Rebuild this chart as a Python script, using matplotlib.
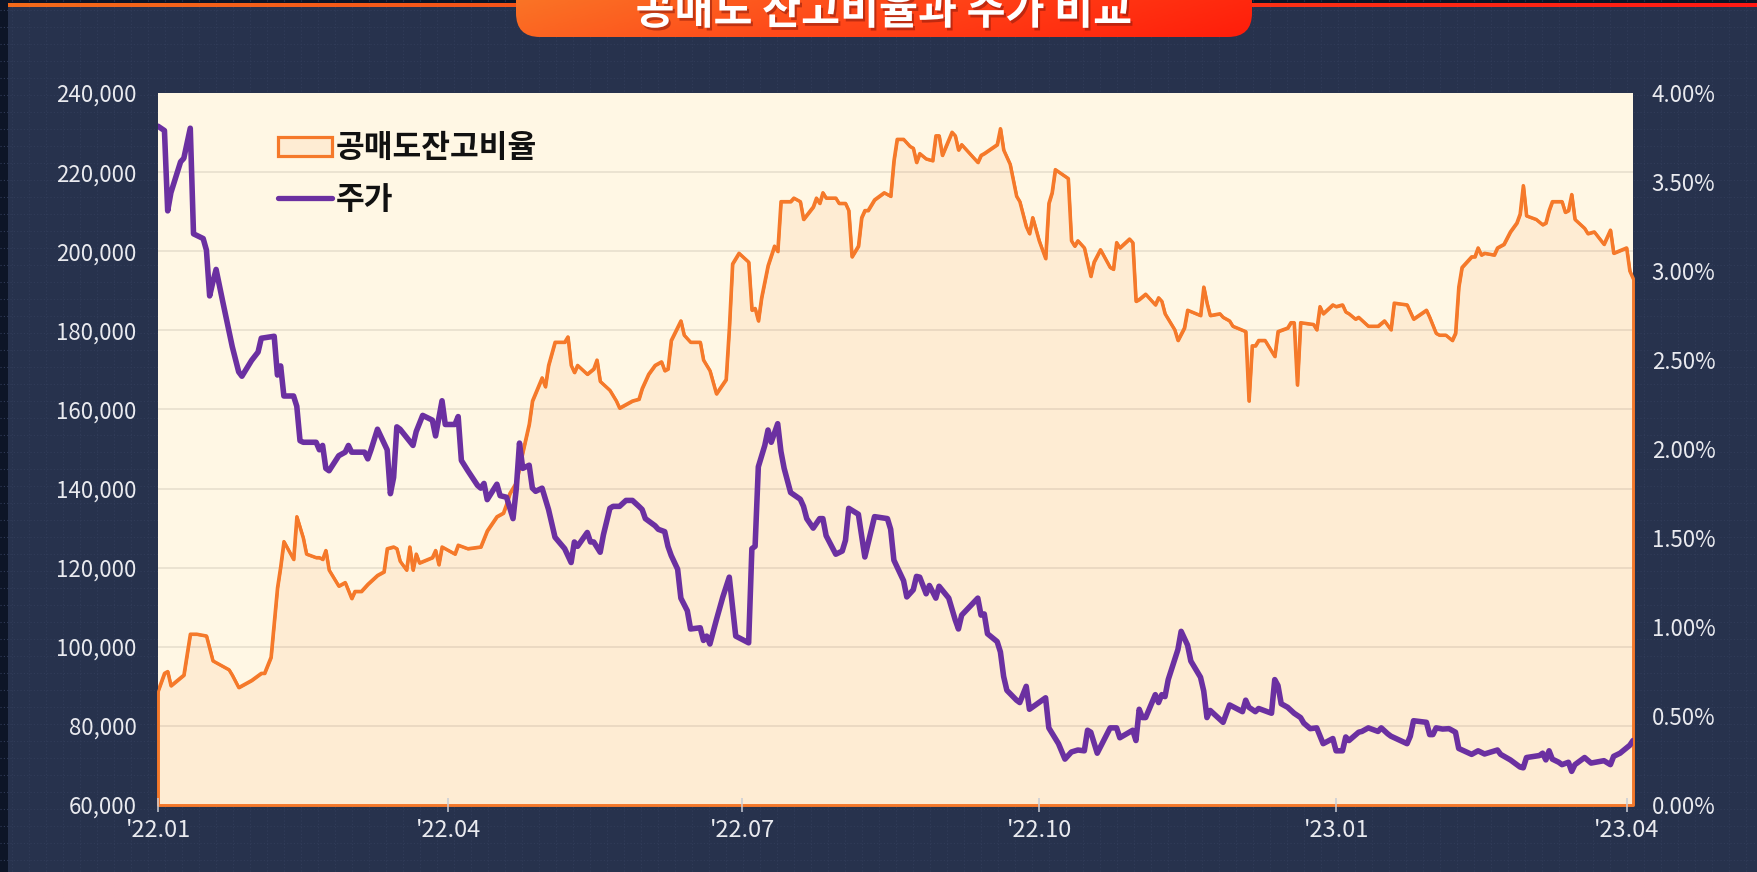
import numpy as np
import pandas as pd
import matplotlib
matplotlib.use("Agg")
import matplotlib.pyplot as plt
import matplotlib.dates as mdates
import matplotlib.patheffects as pe
from matplotlib.patches import FancyBboxPatch, Patch, Rectangle
from matplotlib.lines import Line2D
from matplotlib.colors import LinearSegmentedColormap, to_rgba
from matplotlib.ticker import FixedLocator, FuncFormatter

plt.rcParams['font.family'] = ['Noto Sans CJK KR', 'DejaVu Sans']


# =========================
# DATA
# =========================
TITLE = "공매도 잔고비율과 주가 비교"
RATIO_LABEL = "공매도잔고비율"
PRICE_LABEL = "주가"

START_DATE = "2022-01-01"   # day 0

# short-sale balance ratio (%), day offset from START_DATE
ratio_days = [
    0, 2, 3, 4, 8, 10, 12, 15, 17, 18, 22, 23, 25, 29, 32, 33, 35, 37, 38, 39,
    42, 43, 45, 46, 49, 50, 51, 52, 53, 56, 58, 60, 61, 63, 65, 68, 70, 71, 73, 74,
    75, 77, 78, 79, 80, 81, 85, 86, 87, 88, 92, 93, 96, 100, 102, 105, 107, 108, 109, 111,
    113, 115, 116, 119, 120, 121, 123, 126, 127, 128, 129, 130, 133, 135, 136, 137, 140, 142, 143, 147,
    149, 150, 152, 154, 156, 157, 158, 159, 162, 163, 165, 168, 169, 171, 173, 176, 177, 178, 180, 183,
    184, 185, 186, 187, 189, 191, 192, 193, 196, 197, 199, 200, 203, 204, 205, 206, 207, 210, 211, 213,
    214, 215, 217, 218, 219, 220, 222, 225, 227, 228, 229, 231, 233, 234, 235, 236, 238, 240, 241, 242,
    243, 246, 247, 248, 249, 254, 255, 256, 260, 261, 262, 264, 266, 267, 269, 270, 271, 273, 275, 276,
    277, 278, 282, 283, 284, 285, 287, 289, 290, 292, 295, 296, 297, 298, 301, 302, 303, 304, 306, 309,
    310, 311, 312, 315, 316, 318, 319, 323, 324, 325, 326, 329, 330, 332, 333, 337, 338, 339, 340, 341,
    343, 344, 346, 347, 350, 351, 352, 353, 354, 358, 359, 360, 361, 364, 365, 367, 368, 369, 371, 372,
    375, 378, 380, 382, 383, 387, 389, 393, 394, 396, 397, 399, 401, 402, 403, 404, 407, 408, 409, 410,
    411, 414, 415, 417, 419, 421, 422, 423, 424, 427, 429, 430, 431, 432, 435, 436, 437, 438, 439, 442,
    443, 445, 448, 450, 451, 455, 456, 457,
]
ratio_pct = [
    0.64, 0.74, 0.75, 0.67, 0.73, 0.96, 0.96, 0.95, 0.81, 0.80, 0.76, 0.73, 0.66, 0.70, 0.74, 0.74, 0.83, 1.22, 1.34, 1.48,
    1.38, 1.62, 1.50, 1.41, 1.39, 1.39, 1.38, 1.43, 1.32, 1.23, 1.25, 1.16, 1.20, 1.20, 1.24, 1.29, 1.31, 1.44, 1.45, 1.44,
    1.37, 1.32, 1.45, 1.32, 1.41, 1.36, 1.39, 1.43, 1.35, 1.45, 1.41, 1.46, 1.44, 1.45, 1.54, 1.62, 1.64, 1.69, 1.75, 1.81,
    1.98, 2.14, 2.27, 2.40, 2.35, 2.47, 2.60, 2.60, 2.63, 2.47, 2.43, 2.47, 2.42, 2.45, 2.50, 2.38, 2.33, 2.27, 2.23, 2.27,
    2.28, 2.34, 2.42, 2.47, 2.49, 2.44, 2.45, 2.61, 2.72, 2.64, 2.60, 2.60, 2.50, 2.44, 2.31, 2.39, 2.68, 3.04, 3.10, 3.05,
    2.78, 2.79, 2.72, 2.85, 3.03, 3.14, 3.11, 3.39, 3.39, 3.41, 3.39, 3.29, 3.36, 3.41, 3.38, 3.44, 3.41, 3.41, 3.38, 3.38,
    3.34, 3.08, 3.14, 3.30, 3.34, 3.34, 3.40, 3.44, 3.42, 3.62, 3.74, 3.74, 3.70, 3.69, 3.61, 3.66, 3.63, 3.62, 3.76, 3.76,
    3.65, 3.78, 3.76, 3.68, 3.71, 3.61, 3.65, 3.66, 3.71, 3.80, 3.68, 3.60, 3.42, 3.39, 3.25, 3.21, 3.30, 3.17, 3.07, 3.38,
    3.44, 3.57, 3.52, 3.17, 3.14, 3.17, 3.13, 2.97, 3.05, 3.12, 3.02, 3.01, 3.16, 3.13, 3.18, 3.16, 2.83, 2.84, 2.87, 2.81,
    2.85, 2.83, 2.76, 2.67, 2.61, 2.68, 2.78, 2.75, 2.91, 2.82, 2.75, 2.76, 2.74, 2.72, 2.69, 2.66, 2.27, 2.58, 2.58, 2.61,
    2.61, 2.58, 2.52, 2.66, 2.68, 2.71, 2.71, 2.36, 2.71, 2.70, 2.67, 2.80, 2.76, 2.81, 2.80, 2.81, 2.77, 2.76, 2.73, 2.74,
    2.69, 2.69, 2.72, 2.67, 2.82, 2.81, 2.73, 2.78, 2.74, 2.65, 2.64, 2.64, 2.61, 2.65, 2.91, 3.02, 3.08, 3.08, 3.13, 3.09,
    3.10, 3.09, 3.13, 3.15, 3.22, 3.27, 3.32, 3.48, 3.31, 3.29, 3.26, 3.27, 3.34, 3.39, 3.39, 3.33, 3.34, 3.43, 3.29, 3.24,
    3.21, 3.22, 3.15, 3.23, 3.10, 3.13, 3.00, 2.96,
]

# share price (KRW), day offset from START_DATE
price_days = [
    0, 2, 3, 4, 7, 8, 10, 11, 14, 15, 16, 17, 18, 20, 23, 25, 26, 29, 31, 32,
    36, 37, 38, 39, 42, 43, 44, 45, 49, 50, 51, 52, 53, 56, 58, 59, 60, 64, 65, 66,
    68, 71, 72, 73, 74, 75, 79, 80, 82, 85, 86, 88, 89, 92, 93, 94, 96, 99, 100, 101,
    102, 105, 106, 108, 110, 111, 112, 113, 115, 116, 117, 119, 121, 123, 126, 128, 129, 130, 133, 134,
    135, 137, 138, 140, 141, 143, 145, 147, 149, 150, 151, 154, 155, 157, 158, 159, 161, 162, 164, 165,
    168, 169, 170, 171, 173, 175, 177, 179, 183, 184, 185, 186, 188, 189, 190, 192, 193, 194, 196, 199,
    200, 201, 203, 205, 206, 207, 210, 212, 213, 214, 217, 219, 222, 226, 227, 228, 231, 232, 234, 235,
    236, 238, 239, 241, 242, 245, 247, 248, 249, 254, 255, 256, 257, 260, 261, 262, 263, 266, 267, 269,
    270, 275, 276, 279, 281, 283, 285, 287, 288, 289, 291, 295, 297, 298, 302, 303, 304, 305, 306, 309,
    310, 311, 312, 313, 316, 317, 319, 320, 323, 324, 325, 326, 328, 330, 332, 336, 337, 338, 340, 341,
    345, 346, 347, 348, 350, 352, 354, 355, 357, 359, 361, 364, 365, 367, 368, 369, 372, 373, 375, 378,
    379, 381, 382, 387, 388, 389, 393, 394, 395, 396, 398, 400, 402, 403, 407, 409, 411, 415, 416, 419,
    422, 423, 424, 428, 429, 430, 431, 432, 434, 435, 437, 438, 439, 442, 444, 448, 450, 451, 453, 456,
    457,
]
price_won = [
    231600, 230500, 210200, 214800, 222600, 223500, 231100, 204400, 203200, 200300, 188700, 192200, 195400, 187500, 175900, 169500, 168400, 172400, 174500, 178000,
    178500, 168700, 171000, 163400, 163400, 160800, 152100, 151700, 151700, 149800, 150900, 145100, 144500, 148300, 149200, 150900, 149200, 149200, 147500, 149800,
    155000, 149800, 138700, 142800, 155600, 155000, 150900, 154400, 158500, 157300, 153300, 162200, 156200, 156200, 158200, 147100, 144500, 140800, 140100, 141300,
    137200, 141100, 138200, 137800, 132400, 139900, 151500, 145100, 145900, 140100, 139300, 140100, 134700, 127700, 124800, 121300, 126500, 125400, 128900, 126500,
    126500, 123900, 128300, 135000, 135500, 135500, 137000, 137000, 135500, 134700, 132400, 130600, 129700, 129100, 125400, 123100, 119600, 112300, 109100, 104500,
    104800, 101600, 102700, 100700, 106800, 112600, 117600, 102700, 101000, 124800, 125400, 145500, 150900, 154800, 151700, 156400, 149400, 145100, 139000, 137300,
    135500, 132400, 130000, 132400, 132400, 128100, 123400, 124200, 126900, 135000, 133500, 122700, 132900, 132400, 129700, 121900, 116700, 112600, 114400, 117800,
    117600, 113400, 115500, 112300, 115300, 112300, 106800, 104500, 108000, 112300, 108000, 108300, 103300, 101300, 98700, 92500, 89000, 86500, 85900, 90000,
    84200, 87100, 79500, 75500, 71600, 73400, 73900, 73700, 78900, 78400, 73100, 79500, 79500, 77000, 78900, 76300, 84200, 82100, 82100, 87900,
    85900, 87900, 87400, 91700, 99300, 103900, 100400, 96400, 92300, 88800, 82100, 83900, 82400, 80900, 85300, 83600, 86500, 84700, 83600, 84400,
    83200, 91700, 90200, 85600, 84700, 83200, 82100, 80700, 79300, 79500, 75500, 76800, 73700, 73700, 77200, 76300, 78400, 78600, 79500, 78600,
    79500, 78000, 77400, 75500, 77400, 81300, 80900, 77800, 77800, 79500, 79200, 79300, 78400, 74300, 72800, 73700, 72900, 73900, 72800, 71400,
    69600, 69400, 72000, 72500, 73100, 71400, 73700, 71600, 70800, 70200, 70800, 68500, 70200, 72000, 70600, 71200, 70200, 72300, 73100, 75100,
    76300,
]

price_ticks = [60000, 80000, 100000, 120000, 140000, 160000, 180000, 200000, 220000, 240000]
ratio_ticks = [0.0, 0.5, 1.0, 1.5, 2.0, 2.5, 3.0, 3.5, 4.0]
tick_months = [1, 4, 7, 10]


# =========================
# STYLE
# =========================
W, H = 1758, 872
BG = "#27324d"
BG_DARK = "#0d1527"
CREAM = "#fff7e4"
ORANGE = "#f5792a"
PURPLE = "#6b30a1"
GRID = "#e6ddcc"
LABEL = "#e9eaef"
FILL = to_rgba(ORANGE, 0.085)

start = pd.Timestamp(START_DATE)
ratio_x = start + pd.to_timedelta(ratio_days, unit="D")
price_x = start + pd.to_timedelta(price_days, unit="D")

fig = plt.figure(figsize=(W / 100, H / 100), dpi=100)
fig.patch.set_facecolor(BG)

# =========================
# BACKGROUND (pattern, top bar, banner)
# =========================
bg = fig.add_axes([0, 0, 1, 1], zorder=-10)
bg.set_xlim(0, W)
bg.set_ylim(H, 0)
bg.axis("off")

bg.vlines(np.arange(12, W, 17), 0, H, colors="#313c59", linestyles=(0, (1, 2)), lw=0.8)
bg.hlines(np.arange(10, H, 17), 0, W, colors="#313c59", linestyles=(0, (1, 2)), lw=0.8)
bg.add_patch(Rectangle((0, 0), 8, H, color=BG_DARK, lw=0))
bg.add_patch(Rectangle((0, 0), W, 3.5, color=BG_DARK, lw=0))

bar_cmap = LinearSegmentedColormap.from_list("bar", ["#f26a1b", "#ff1a14"])
bg.imshow(np.linspace(0, 1, 256)[None, :], cmap=bar_cmap, aspect="auto",
          extent=(8, W, 7.5, 3.5), zorder=2)

# title banner with diagonal gradient
bx0, bx1, by1 = 516, 1252, 37
banner = FancyBboxPatch((bx0, -40), bx1 - bx0, by1 + 40,
                        boxstyle="round,pad=0,rounding_size=24",
                        facecolor="none", edgecolor="none", transform=bg.transData)
bg.add_patch(banner)
gx, gy = np.meshgrid(np.linspace(0, 1, 300), np.linspace(0, 1, 60))
grad = 0.75 * gx + 0.25 * (1 - gy)
ban_cmap = LinearSegmentedColormap.from_list("ban", ["#f8822a", "#ff4a1a", "#ff1d0a"])
im = bg.imshow(grad, cmap=ban_cmap, aspect="auto", extent=(bx0, bx1, by1, -40),
               origin="lower", zorder=3)
im.set_clip_path(banner)

# title sits partly above the figure edge, as in the source image
bg.text((bx0 + bx1) / 2, 24, TITLE, ha="center", va="baseline", fontsize=30.5,
        fontweight="bold", color="white", zorder=4,
        path_effects=[pe.SimplePatchShadow(offset=(1.5, -2), shadow_rgbFace="#8b1a0c", alpha=0.55),
                      pe.Normal()])

# =========================
# CHART
# =========================
ax = fig.add_axes([158 / W, 1 - 805 / H, 1475 / W, 712 / H])
ax2 = ax.twinx()
ax.set_zorder(ax2.get_zorder() + 1)
ax.patch.set_visible(False)
ax2.patch.set_visible(True)
ax2.set_facecolor(CREAM)

# ratio (right axis): grid, area, line
grid_pos = [(p - price_ticks[0]) / (price_ticks[-1] - price_ticks[0]) * ratio_ticks[-1]
            for p in price_ticks[1:-1]]
ax2.set_ylim(ratio_ticks[0], ratio_ticks[-1])
ax2.yaxis.set_minor_locator(FixedLocator(grid_pos))
ax2.grid(which="minor", axis="y", color=GRID, lw=1.1)
ax2.set_axisbelow(True)

ax2.fill_between(ratio_x, ratio_pct, 0, facecolor=FILL,
                 edgecolor=ORANGE, linewidth=2.1, clip_on=False, zorder=1)
ax2.plot(ratio_x, ratio_pct, color=ORANGE, lw=2.4, solid_joinstyle="round", zorder=2)

# price (left axis)
ax.plot(price_x, price_won, color=PURPLE, lw=4.0, solid_joinstyle="round",
        solid_capstyle="round", zorder=3)
ax.set_ylim(price_ticks[0], price_ticks[-1])
ax.set_xlim(ratio_x[0], ratio_x[-1])

ax.set_yticks(price_ticks)
ax.yaxis.set_major_formatter(FuncFormatter(lambda v, _: f"{int(v):,}"))
ax2.set_yticks(ratio_ticks)
ax2.yaxis.set_major_formatter(FuncFormatter(lambda v, _: f"{v:.2f}%"))

ax.xaxis.set_major_locator(mdates.MonthLocator(bymonth=tick_months))
ax.xaxis.set_major_formatter(mdates.DateFormatter("'%y.%m"))

ax.tick_params(axis="y", length=0, pad=15.5, labelsize=16, labelcolor=LABEL)
ax2.tick_params(axis="y", which="both", length=0, pad=13.5, labelsize=16, labelcolor=LABEL)
ax.tick_params(axis="x", direction="inout", length=10, width=1.1, color="#c9cdd6",
               pad=5, labelsize=17, labelcolor=LABEL)

for a in (ax, ax2):
    for s in a.spines.values():
        s.set_visible(False)

for lab in ax.get_yticklabels() + ax2.get_yticklabels() + ax.get_xticklabels():
    lab.set_fontweight("light")

# legend
handles = [Patch(facecolor=FILL, edgecolor=ORANGE, lw=2.3),
           Line2D([], [], color=PURPLE, lw=3.8, solid_capstyle="round")]
ax.legend(handles, [RATIO_LABEL, PRICE_LABEL], loc="center left",
          bbox_to_anchor=(0.0814, 0.886), frameon=False,
          prop={"weight": "bold", "size": 22.5}, labelcolor="#111111",
          handlelength=1.72, handleheight=0.58, handletextpad=0.12,
          labelspacing=0.62, borderpad=0, borderaxespad=0)

fig.savefig("out.png", dpi=100, facecolor=fig.get_facecolor())
